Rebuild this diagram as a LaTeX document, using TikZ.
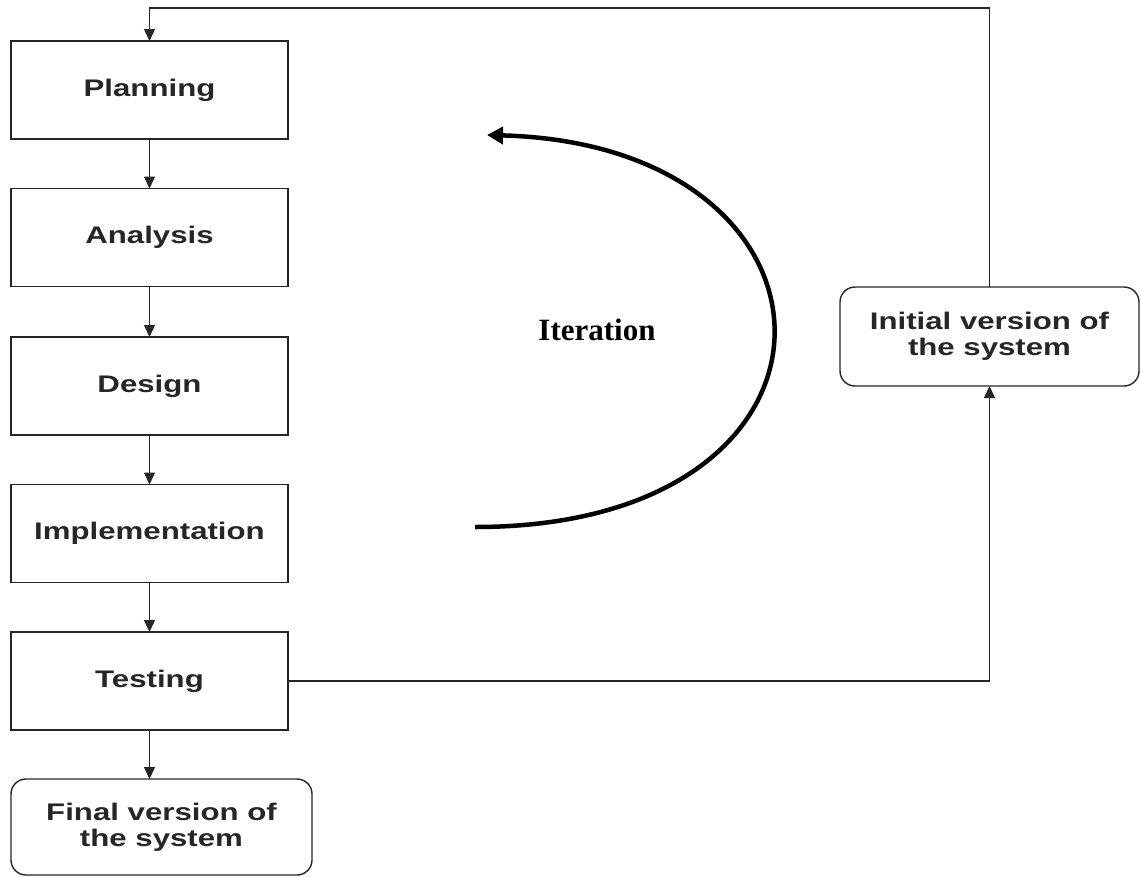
\documentclass[tikz,border=0pt]{standalone}
\usepackage{fontspec}
\setmainfont{Liberation Sans}
\newfontfamily\boxfont[FakeStretch=1.3]{Liberation Sans}
\newfontfamily\serffont{Liberation Serif}
\usetikzlibrary{arrows.meta}
\begin{document}
\begin{tikzpicture}[x=1pt,y=-1pt,
  stage/.style={draw=black!85,line width=1.4pt,minimum width=277pt,minimum height=98pt,inner sep=0pt,outer sep=0pt,
    font=\boxfont\bfseries\fontsize{24}{26}\selectfont,text=black!85,align=center},
  rstage/.style={stage,rounded corners=15pt},
  conn/.style={draw=black!85,line width=1.4pt,-{Triangle[length=12pt,width=11pt]}}]
\useasboundingbox (0,0) rectangle (1141,876);
\node[stage] (plan) at (149.5,90) {Planning};
\node[stage] (ana) at (149.5,237.5) {Analysis};
\node[stage] (des) at (149.5,386) {Design};
\node[stage] (imp) at (149.5,533.5) {Implementation};
\node[stage] (test) at (149.5,681) {Testing};
\node[rstage,minimum width=301pt,minimum height=96pt] (final) at (161.5,827) {Final version of\\the system};
\node[rstage,minimum width=299pt,minimum height=99pt] (init) at (989.5,336.5) {Initial version of\\the system};
\coordinate (tr) at (989.5,8);
\coordinate (tl) at (149.5,8);
\draw[conn] (plan) -- (ana);
\draw[conn] (ana) -- (des);
\draw[conn] (des) -- (imp);
\draw[conn] (imp) -- (test);
\draw[conn] (test.south) -- (test.south |- final.north);
\draw[conn] (test.east) -| (init.south);
\draw[conn] (init.north) -- (tr) -- (tl) -- (plan.north);
\coordinate (cs) at (475,527);
\coordinate (ce) at (487,135);
\draw[line width=4.5pt,-{Triangle[length=16pt,width=17pt]}] (cs) .. controls (875,527) and (865,145) .. (ce);
\node[font=\serffont\bfseries\fontsize{31}{34}\selectfont] (iter) at (597,330) {Iteration};
\end{tikzpicture}
\end{document}
